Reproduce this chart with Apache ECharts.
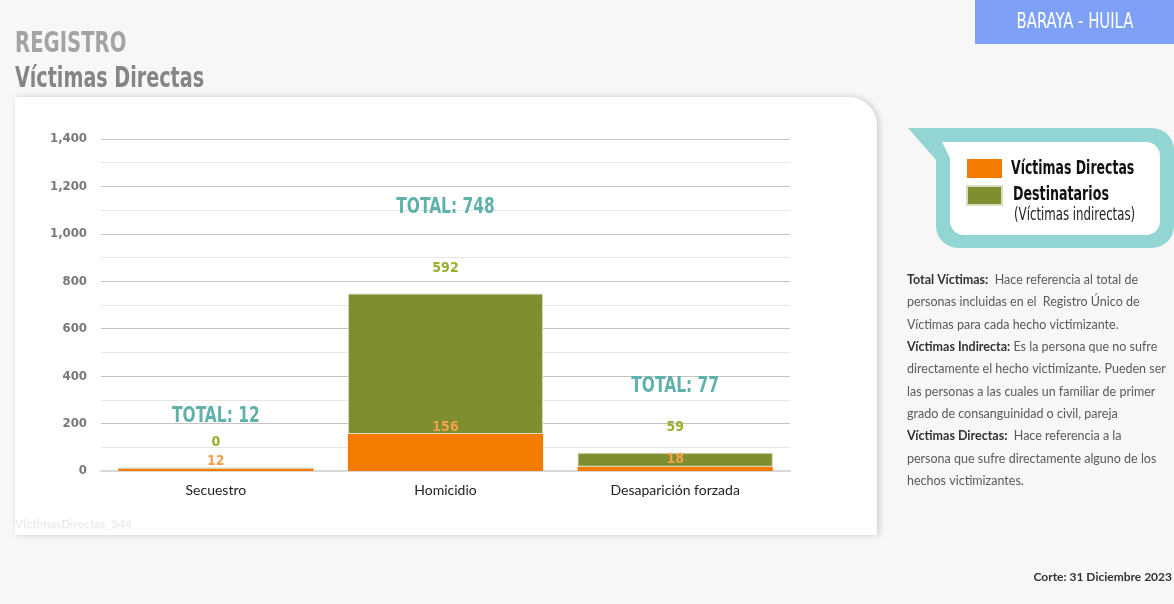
<!DOCTYPE html>
<html><head><meta charset="utf-8">
<script src="https://cdn.jsdelivr.net/npm/echarts@6/dist/echarts.min.js"></script>
<style>html,body{margin:0;padding:0;background:#f7f7f7}#c{width:1174px;height:604px}</style>
</head><body><div id="c"></div>
<script>
const categories = ['Secuestro', 'Homicidio', 'Desaparición forzada'];
const victimasDirectas = [12, 156, 18];
const destinatarios = [0, 592, 59];
const yTicks = [0, 200, 400, 600, 800, 1000, 1200, 1400];
const totals = victimasDirectas.map((v, i) => v + destinatarios[i]);

// label lift in px (style) for the TOTAL captions above each stack
const totalLift = [52, 86, 66];

const COND = '"DejaVu Sans Condensed", "DejaVu Sans", sans-serif';
const ORANGE = '#f57a00', GREEN = '#7f8f2f';

const chart = echarts.init(document.getElementById('c'));
const descLines = [
  '{b|Total Víctimas:}  Hace referencia al total de',
  'personas incluidas en el  Registro Único de',
  'Víctimas para cada hecho victimizante.',
  '{b|Víctimas Indirecta:} Es la persona que no sufre',
  'directamente el hecho victimizante. Pueden ser',
  'las personas a las cuales un familiar de primer',
  'grado de consanguinidad o civil, pareja',
  '{b|Víctimas Directas:}  Hace referencia a la',
  'persona que sufre directamente alguno de los',
  'hechos victimizantes.'
];

chart.setOption({
  backgroundColor: '#f7f7f7',
  animation: false,
  grid: { left: 101, right: 384, top: 139, bottom: 133 },
  legend: {
    left: 966, top: 159, orient: 'vertical', itemWidth: 35, itemHeight: 19, itemGap: 7,
    padding: 0, icon: 'rect', selectedMode: false,
    data: ['Víctimas Directas', 'Destinatarios'],
    formatter: () => '',
    textStyle: { fontSize: 1 }
  },
  xAxis: {
    type: 'category', data: categories,
    axisTick: { show: false },
    axisLine: { lineStyle: { color: '#d9d9d9', width: 2 } },
    axisLabel: { margin: 12, fontSize: 14, color: '#222', fontFamily: 'Lato, sans-serif' }
  },
  yAxis: {
    type: 'value', min: 0, max: 1400, interval: 200,
    axisLabel: { margin: 14, fontFamily: COND, fontWeight: 'bold', fontSize: 13, color: '#777777',
      formatter: v => yTicks.includes(v) ? v.toLocaleString('en-US') : '' },
    splitLine: { lineStyle: { color: '#c4c4c4', width: 1.2 } },
    minorTick: { show: false, splitNumber: 2 },
    minorSplitLine: { show: true, lineStyle: { color: '#e6e6e6', width: 1 } }
  },
  series: [
    {
      name: 'Víctimas Directas', type: 'bar', stack: 'a', data: victimasDirectas,
      barCategoryGap: '15%',
      itemStyle: { color: ORANGE },
      label: { show: true, position: 'top', distance: 0, color: '#f5a04a',
        fontFamily: COND, fontWeight: 'bold', fontSize: 14 }
    },
    {
      name: 'Destinatarios', type: 'bar', stack: 'a', data: destinatarios,
      barCategoryGap: '15%',
      itemStyle: { color: GREEN, borderColor: '#d8dcc0', borderWidth: 1 },
      label: { show: true, position: 'top', distance: 18, color: '#9aae2e',
        fontFamily: COND, fontWeight: 'bold', fontSize: 14 }
    },
    {
      name: 'Total', type: 'custom', silent: true, z: 5,
      data: totals.map((v, i) => [i, v]),
      renderItem: (params, api) => {
        const p = api.coord([api.value(0), api.value(1)]);
        return {
          type: 'text', x: p[0], y: p[1] - totalLift[params.dataIndex], scaleX: 0.78,
          style: { text: 'TOTAL: ' + api.value(1), fill: '#5fb1ab', fontFamily: COND,
            fontWeight: 'bold', fontSize: 22, align: 'center', verticalAlign: 'middle' }
        };
      }
    }
  ],
  graphic: [
    { type: 'rect', z: -100, shape: { x: 15, y: 97, width: 862, height: 438, r: [0, 28, 0, 0] },
      style: { fill: '#ffffff', shadowBlur: 6, shadowColor: 'rgba(0,0,0,0.18)', shadowOffsetX: 2, shadowOffsetY: 0 } },
    { type: 'text', x: 15, y: 45, scaleX: 0.78, style: { text: 'REGISTRO', fill: '#a3a3a3', fontFamily: COND, fontWeight: 'bold', fontSize: 28, verticalAlign: 'middle' } },
    { type: 'text', x: 15, y: 80, scaleX: 0.76, style: { text: 'Víctimas Directas', fill: '#858585', fontFamily: COND, fontWeight: 'bold', fontSize: 28, verticalAlign: 'middle' } },
    { type: 'rect', shape: { x: 975, y: 0, width: 199, height: 44 }, style: { fill: '#7fa0f7' } },
    { type: 'text', x: 1075, y: 22, scaleX: 0.75, style: { text: 'BARAYA - HUILA', fill: '#fff', fontFamily: COND, fontSize: 22, align: 'center', verticalAlign: 'middle' } },
    { type: 'rect', z: -5, shape: { x: 936, y: 128, width: 238, height: 120, r: 22 }, style: { fill: '#93d5d3' } },
    { type: 'polygon', z: -5, shape: { points: [[908, 128], [970, 128], [936, 160]] }, style: { fill: '#93d5d3' } },
    { type: 'rect', z: -4, shape: { x: 950, y: 142, width: 210, height: 93, r: 14 }, style: { fill: '#ffffff' } },
    { type: 'polygon', z: -4, shape: { points: [[942, 142], [975, 142], [950, 158]] }, style: { fill: '#ffffff' } },
    { type: 'text', x: 1011, y: 169, scaleX: 0.73, style: { text: 'Víctimas Directas', fill: '#111', fontFamily: COND, fontWeight: 'bold', fontSize: 19, verticalAlign: 'middle' } },
    { type: 'text', x: 1013, y: 195, scaleX: 0.74, style: { text: 'Destinatarios', fill: '#111', fontFamily: COND, fontWeight: 'bold', fontSize: 19, verticalAlign: 'middle' } },
    { type: 'text', x: 1014, y: 216, scaleX: 0.77, style: { text: '(Víctimas indirectas)', fill: '#222', fontFamily: COND, fontSize: 17, verticalAlign: 'middle' } },
    { type: 'text', x: 907, y: 269, style: {
        text: descLines.join('\n'),
        rich: {
          b: { fontFamily: 'Lato, sans-serif', fontWeight: 'bold', fontSize: 12.5, fill: '#333', lineHeight: 22.3 }
        },
        fill: '#5a5a5a', fontFamily: 'Lato, sans-serif', fontSize: 12.5, lineHeight: 22.3 } },
    { type: 'text', x: 15, y: 518, style: { text: 'VictimasDirectas_344', fill: '#ececec', fontFamily: 'Lato, sans-serif', fontWeight: 'bold', fontSize: 12 } },
    { type: 'text', x: 1172, y: 577, style: { text: 'Corte: 31 Diciembre 2023', fill: '#333', fontFamily: 'Lato, sans-serif', fontWeight: 'bold', fontSize: 12, align: 'right', verticalAlign: 'middle' } }
  ]
});
</script></body></html>
